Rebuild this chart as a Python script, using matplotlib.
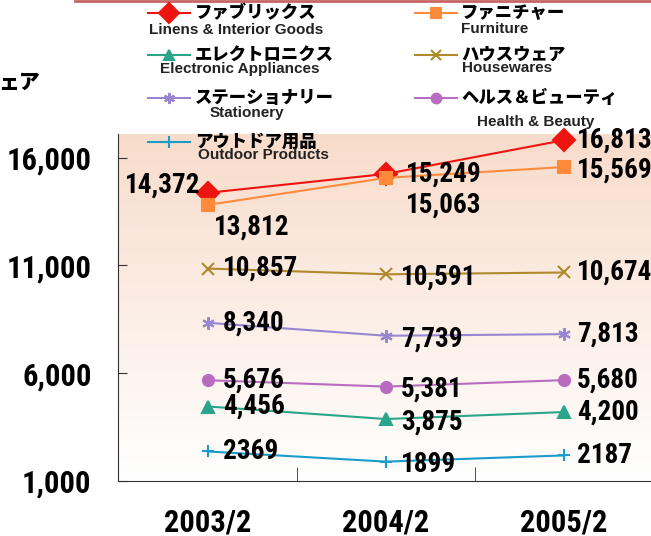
import numpy as np
import matplotlib
matplotlib.use("Agg")
import matplotlib.pyplot as plt
from matplotlib.colors import LinearSegmentedColormap

years = ["2003/2", "2004/2", "2005/2"]
fabrics = [14372, 15249, 16813]
furniture = [13812, 15063, 15569]
electronics = [4456, 3875, 4200]
housewares = [10857, 10591, 10674]
stationery = [8340, 7739, 7813]
health = [5676, 5381, 5680]
outdoor = [2369, 1899, 2187]
outdoor_labels = ["2369", "1899", "2187"]
names_jp = ["ファブリックス", "ファニチャー", "エレクトロニクス", "ハウスウェア",
            "ステーショナリー", "ヘルス＆ビューティ", "アウトドア用品"]
names_en = ["Linens & Interior Goods", "Furniture", "Electronic Appliances", "Housewares",
            "Stationery", "Health & Beauty", "Outdoor Products"]
yticks = [1000, 6000, 11000, 16000]
ytick_labels = ["1,000", "6,000", "11,000", "16,000"]

series = [fabrics, furniture, electronics, housewares, stationery, health, outdoor]
colors = ["#EE1410", "#FF8A3C", "#2AA58A", "#B08A2A", "#9A86D0", "#B86CC0", "#1A9CC8"]
markers = ["D", "s", "^", "x", (6, 2, 0), "o", "+"]
msizes = [11, 8, 8, 8, 9, 8, 9]

# label offsets in pixels (dx, dy), dy positive = down
offs = [
    [(-8, -8, "right"), (20, 0, "left"), (13, 0, "left")],
    [(6, 22, "left"), (20, 27, "left"), (13, 3, "left")],
]
default_off = [(15, 0, "left"), (15, 3, "left"), (13, 0, "left")]

W, H = 651, 536
fig = plt.figure(figsize=(W / 100, H / 100), dpi=100)
ax = fig.add_axes([118 / W, (H - 481) / H, (W - 118) / W, (481 - 134) / H])
x = np.arange(len(years))
ax.set_xlim(-0.506, 2.489)
ax.set_ylim(1000, 17100)

# gradient background
cmap = LinearSegmentedColormap.from_list("bg", ["#FFFFFF", "#F8DCCB"])
ax.imshow(np.linspace(0, 1, 256)[:, None], extent=(-0.506, 2.489, 1000, 17100),
          aspect="auto", origin="lower", cmap=cmap, zorder=0)

num_font = dict(family=["Liberation Sans Narrow", "Roboto Condensed", "Archivo Narrow",
                        "DejaVu Sans"], weight="bold", stretch="condensed")

for i, s in enumerate(series):
    ax.plot(x, s, color=colors[i], lw=1.5, marker=markers[i], ms=msizes[i],
            mec=colors[i], mfc=colors[i], mew=1.5, zorder=3, clip_on=False)
    for j, v in enumerate(s):
        dx, dy, ha = offs[i][j] if i < 2 else default_off[j]
        txt = outdoor_labels[j] if i == 6 else f"{v:,}"
        ax.annotate(txt, (x[j], v), xytext=(dx, -dy), textcoords="offset pixels",
                    ha=ha, va="center", fontsize=19.5, color="black", zorder=4,
                    **num_font)

for side in ["top", "right"]:
    ax.spines[side].set_visible(False)
ax.spines["left"].set_color("#333333")
ax.spines["bottom"].set_color("#333333")

ax.set_yticks(yticks)
ax.set_yticklabels(ytick_labels, **num_font)
ax.tick_params(axis="y", direction="in", length=6.5, color="#333333",
               labelsize=22, pad=19)
ax.set_xticks(x)
ax.set_xticklabels(years, **num_font)
ax.tick_params(axis="x", which="major", length=0, labelsize=22, pad=19)
ax.set_xticks([0.5, 1.5], minor=True)
ax.tick_params(axis="x", which="minor", direction="in", length=10, color="#333333")

# overlay in pixel coordinates for the legend block
ov = fig.add_axes([0, 0, 1, 1])
ov.set_xlim(0, W)
ov.set_ylim(H, 0)
ov.axis("off")
ov.patch.set_alpha(0)

ov.plot([75, W], [0.8, 0.8], color="#C86464", lw=2)

col_x = [(148, 190, 195), (415, 457, 461)]
rows_y = [13, 55, 98, 142]
en_pos = [(236, 30), (495, 29), (240, 69), (507, 68), (247, 113), (536, 122), (263, 155)]
jp_font = dict(family=["Noto Sans CJK JP", "DejaVu Sans"], weight="heavy")
for k in range(len(names_jp)):
    c = k % 2
    r = k // 2
    x0, x1, tx = col_x[c]
    y0 = rows_y[r]
    ov.plot([x0, x1], [y0, y0], color=colors[k], lw=1.5)
    ov.plot([(x0 + x1) / 2], [y0], marker=markers[k], ms=msizes[k] - 1,
            color=colors[k], mew=1.5)
    ov.text(tx, y0, names_jp[k], ha="left", va="center", fontsize=12.5,
            color="black", **jp_font)
    ex, ey = en_pos[k]
    ov.text(ex, ey, names_en[k], ha="center", va="center", fontsize=11,
            color="#222222", family="Liberation Sans", weight="bold")

ov.text(-2, 83, "ェア", ha="left", va="center", fontsize=15, color="black", **jp_font)

fig.savefig("out.png", dpi=100)
